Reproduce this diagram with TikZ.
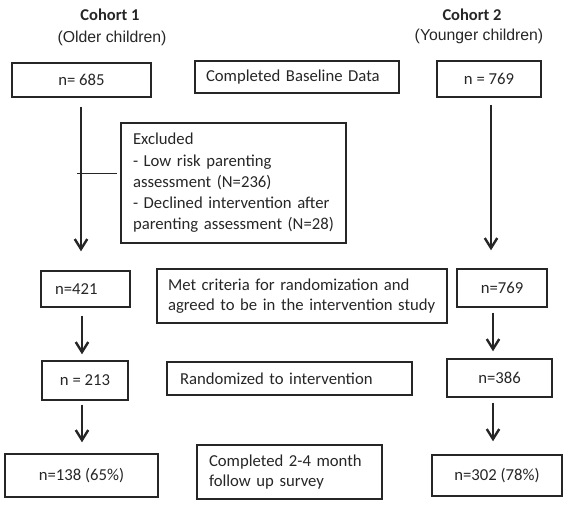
\documentclass[tikz,border=0pt]{standalone}
\usepackage{fontspec}
\setmainfont{Carlito}
\newfontfamily\arialf{Liberation Sans}
\usetikzlibrary{arrows.meta}
\definecolor{ink}{HTML}{262626}
\begin{document}
\begin{tikzpicture}[x=1pt,y=-1pt,
  every node/.style={text=ink, font=\fontsize{16.7}{20}\selectfont},
  box/.style={draw=ink, line width=1.4pt, inner sep=0pt, align=center},
  lbox/.style={draw=ink, line width=1.4pt, inner ysep=0pt, align=left},
  flow/.style={draw=ink, line width=2.5pt, -{Straight Barb[length=10pt,width=12.5pt,line width=2.4pt]}},
  branch/.style={draw=ink, line width=1pt},
  head/.style={font=\bfseries\fontsize{16.5}{20}\selectfont},
  sub/.style={font=\arialf\fontsize{15.8}{19}\selectfont}
]
\useasboundingbox (0,0) rectangle (570,509);

% cohort headings
\node[head] (c1) at (110,15) {Cohort 1};
\node[sub] (c1s) at (112,38) {(Older children)};
\node[head] (c2) at (472,15) {Cohort 2};
\node[sub] (c2s) at (479,36) {(Younger children)};

% row 1
\node[box, minimum width=139pt, minimum height=34pt] (b685) at (81.5,80) {n= 685};
\node[lbox, inner xsep=11pt, text width=182pt, minimum height=32pt] (bcbd) at (297,77) {Completed Baseline Data};
\node[box, minimum width=104pt, minimum height=36pt] (b769) at (489,79) {n = 769};

% exclusion box
\node[lbox, inner xsep=12pt, text width=201pt, minimum height=120pt,
      font=\fontsize{16.7}{21.3}\selectfont] (bexc) at (233.5,183)
  {Excluded\\- Low risk parenting\\assessment (N=236)\\- Declined intervention after\\parenting assessment (N=28)};

% row 2
\node[lbox, inner xsep=14pt, text width=61pt, minimum height=36pt] (b421) at (85.5,289) {n=421};
\node[lbox, inner xsep=11pt, text width=268pt, minimum height=54pt] (bmet) at (302,296)
  {Met criteria for randomization and\\agreed to be in the intervention study};
\node[box, minimum width=90pt, minimum height=38pt] (b769b) at (502,288) {n=769};

% row 3
\node[box, minimum width=86pt, minimum height=39pt] (b213) at (85,380.5) {n = 213};
\node[lbox, inner xsep=13pt, text width=219pt, minimum height=33pt] (brand) at (289.5,378.5) {Randomized to intervention};
\node[box, minimum width=105pt, minimum height=38pt] (b386) at (499.5,378) {n=386};

% row 4
\node[box, minimum width=153pt, minimum height=43pt] (b138) at (81.5,475.5) {n=138 (65\%)};
\node[lbox, inner xsep=12pt, text width=161pt, minimum height=54pt] (bcomp) at (289.5,472)
  {Completed 2-4 month\\follow up survey};
\node[box, minimum width=130pt, minimum height=41pt] (b302) at (497,475.5) {n=302 (78\%)};

% arrows
\draw[flow, shorten <=9pt, shorten >=19pt] ([xshift=-0.5pt]b685.south) -- ([xshift=-0.5pt]b685.south |- b421.north);
\draw[flow, shorten <=7pt, shorten >=18pt] ([xshift=2pt]b769.south) -- ([xshift=2pt]b769.south |- b769b.north);
\draw[flow, shorten <=8pt, shorten >=6pt] ([xshift=-3.5pt]b421.south) -- ([xshift=-3.5pt]b421.south |- b213.north);
\draw[flow, shorten <=4pt, shorten >=11pt] ([xshift=-3pt]b213.south) -- ([xshift=-3pt]b213.south |- b138.north);
\draw[flow, shorten <=5pt, shorten >=7pt] ([xshift=-9pt]b769b.south) -- ([xshift=-9pt]b769b.south |- b386.north);
\draw[flow, shorten <=5pt, shorten >=13pt] ([xshift=-6.5pt]b386.south) -- ([xshift=-6.5pt]b386.south |- b302.north);

% branch to exclusion box
\coordinate (brj) at (77,173);
\draw[branch, shorten >=3pt] (brj) -- (brj -| bexc.west);
\end{tikzpicture}
\end{document}
